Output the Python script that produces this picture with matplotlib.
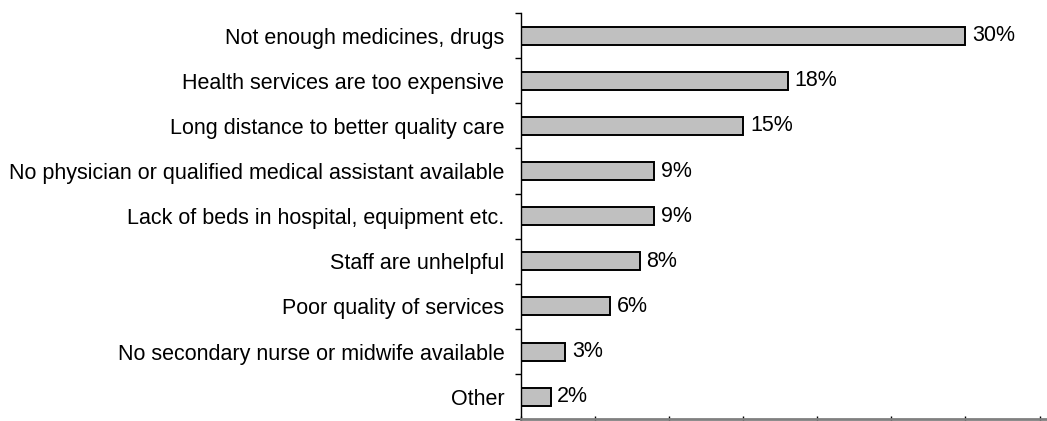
import matplotlib

matplotlib.use('Agg')
import matplotlib.pyplot as plt
import numpy as np

plt.rcParams['font.family'] = ['Liberation Sans', 'DejaVu Sans']

reasons = [
    'Not enough medicines, drugs',
    'Health services are too expensive',
    'Long distance to better quality care',
    'No physician or qualified medical assistant available',
    'Lack of beds in hospital, equipment etc.',
    'Staff are unhelpful',
    'Poor quality of services',
    'No secondary nurse or midwife available',
    'Other',
]
shares = [30, 18, 15, 9, 9, 8, 6, 3, 2]

fig = plt.figure(figsize=(10.47, 4.21), dpi=100)
ax = fig.add_axes([0.4976, 0.004, 0.566, 0.965])

pos = np.arange(len(reasons))
ax.barh(pos, shares, height=0.4, color='#c0c0c0', edgecolor='black', linewidth=1.4)

for y, v in zip(pos, shares):
    ax.text(v + 0.45, y, f'{v}%', va='center', ha='left', fontsize=15.5)

ax.set_ylim(len(reasons) - 0.5, -0.5)
ax.set_xlim(0, 40)

# category names sit between the boundary ticks
ax.set_yticks(pos)
ax.set_yticklabels(reasons, fontsize=15.5)
ax.tick_params(axis='y', which='major', length=0, pad=12)
ax.set_yticks(np.arange(len(reasons) + 1) - 0.5, minor=True)
ax.tick_params(axis='y', which='minor', length=4.5, width=1, direction='out')

ax.set_xticks(np.arange(0, 41, 5))
ax.set_xticklabels([])
ax.tick_params(axis='x', length=4, width=1, direction='inout', color='black')

ax.spines['top'].set_visible(False)
ax.spines['right'].set_visible(False)
ax.spines['left'].set_linewidth(1)
ax.spines['bottom'].set_color('#808080')
ax.spines['bottom'].set_linewidth(2)

fig.savefig('out.png', dpi=100)
